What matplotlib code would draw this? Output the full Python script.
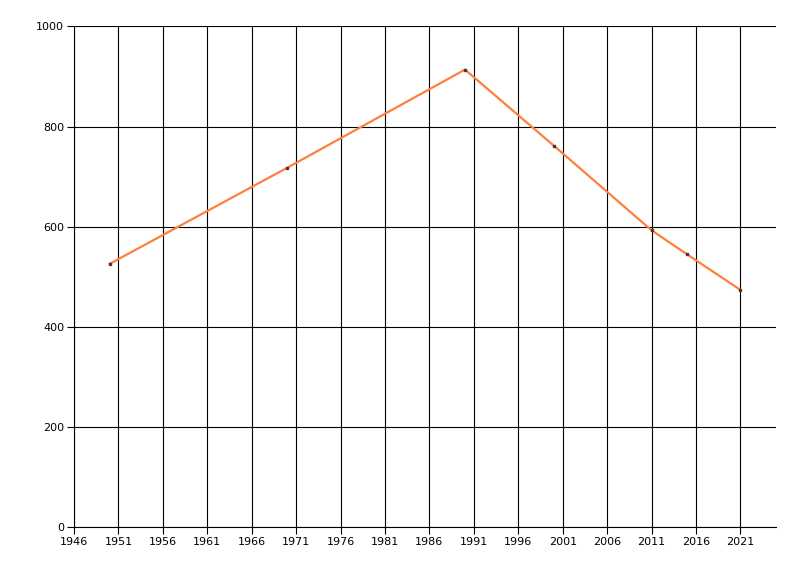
import matplotlib
matplotlib.use("Agg")
import matplotlib.pyplot as plt

years = [1950, 1970, 1990, 2000, 2011, 2015, 2021]
values = [526, 718, 914, 762, 593, 545, 474]
x_ticks = list(range(1946, 2022, 5))
y_ticks = [0, 200, 400, 600, 800, 1000]

fig = plt.figure(figsize=(8, 5.76), dpi=100)
ax = fig.add_axes([0.0925, 0.0845, 0.8775, 0.8695])

ax.plot(years, values, color="#ff7f3f", lw=1.6, zorder=3)
ax.plot(years, values, ls="none", marker="s", ms=1.6, color="#553333", zorder=4)

ax.set_xlim(1946, 2025)
ax.set_ylim(0, 1000)
ax.set_xticks(x_ticks)
ax.set_yticks(y_ticks)
ax.grid(True, color="black", lw=0.8)
ax.set_axisbelow(True)

for s in ["top", "right"]:
    ax.spines[s].set_visible(False)
for s in ["left", "bottom"]:
    ax.spines[s].set_linewidth(0.8)
ax.tick_params(length=5, width=0.8, labelsize=8, pad=2)

fig.savefig("out.png", dpi=100)
